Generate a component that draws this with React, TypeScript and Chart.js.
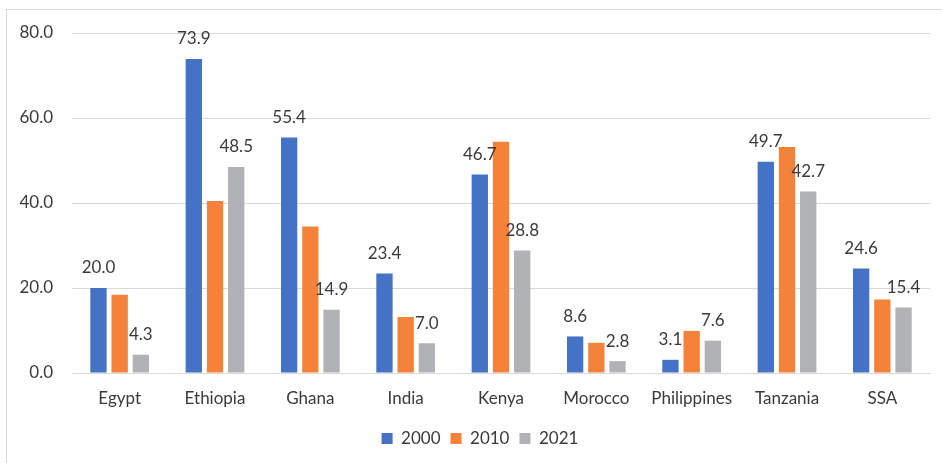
import React, { useEffect, useRef } from "react";
import { Chart, registerables } from "chart.js";

Chart.register(...registerables);

const categories = ["Egypt", "Ethiopia", "Ghana", "India", "Kenya", "Morocco", "Philippines", "Tanzania", "SSA"];
const series2000 = [20.0, 73.9, 55.4, 23.4, 46.7, 8.6, 3.1, 49.7, 24.6];
const series2010 = [18.4, 40.5, 34.5, 13.2, 54.4, 7.1, 9.9, 53.2, 17.3];
const series2021 = [4.3, 48.5, 14.9, 7.0, 28.8, 2.8, 7.6, 42.7, 15.4];
const yTicks = [0, 20, 40, 60, 80];

const FONT = "Lato";
const FS = 17;
const TEXT = "#3a3a3a";

const borderPlugin = {
  id: "outerBorder",
  beforeDraw(chart: any) {
    const ctx = chart.ctx;
    ctx.save();
    ctx.fillStyle = "#ffffff";
    ctx.fillRect(0, 0, chart.width, chart.height);
    ctx.strokeStyle = "#d9d9d9";
    ctx.lineWidth = 1;
    ctx.strokeRect(6.5, 9.5, 1200, 1200);
    ctx.restore();
  },
};

const legendShiftPlugin = {
  id: "legendShift",
  afterLayout(chart: any) {
    if (chart.legend) {
      chart.legend.left += 15;
      chart.legend.right += 15;
    }
  },
};

const labelPlugin = {
  id: "valueLabels",
  afterDatasetsDraw(chart: any) {
    const ctx = chart.ctx;
    ctx.save();
    ctx.font = `${FS}px ${FONT}`;
    ctx.fillStyle = TEXT;
    ctx.textAlign = "center";
    ctx.textBaseline = "middle";
    chart.data.datasets.forEach((ds: any, di: number) => {
      if (!ds.showLabels) return;
      const meta = chart.getDatasetMeta(di);
      meta.data.forEach((bar: any, i: number) => {
        ctx.fillText(Number(ds.data[i]).toFixed(1), bar.x, bar.y - 20);
      });
    });
    ctx.restore();
  },
};

export default function App() {
  const ref = useRef<HTMLCanvasElement>(null);
  useEffect(() => {
    const canvas = ref.current!;
    const chart = new Chart(canvas, {
      type: "bar",
      data: {
        labels: categories,
        datasets: [
          { label: "2000", data: series2000, backgroundColor: "#4472C4", showLabels: true } as any,
          { label: "2010", data: series2010, backgroundColor: "#F5823A", showLabels: false } as any,
          { label: "2021", data: series2021, backgroundColor: "#B1B2B5", showLabels: true } as any,
        ],
      },
      options: {
        responsive: false,
        animation: false,
        devicePixelRatio: 1,
        layout: { padding: { top: 33, right: 12, left: 0, bottom: 6 } },
        datasets: { bar: { categoryPercentage: 0.667, barPercentage: 0.77 } },
        scales: {
          x: {
            grid: { display: false },
            border: { display: true, color: "#d9d9d9", width: 1 },
            ticks: { color: TEXT, font: { family: FONT, size: FS }, padding: 7, maxRotation: 0 },
            afterFit(scale: any) { scale.height = 47; },
          },
          y: {
            min: 0,
            max: 80,
            afterBuildTicks(scale: any) { scale.ticks = yTicks.map((v) => ({ value: v })); },
            grid: { color: "#d9d9d9", drawTicks: false, lineWidth: 1 },
            border: { display: false },
            ticks: {
              color: TEXT,
              font: { family: FONT, size: FS },
              padding: 19,
              callback: (v: any) => Number(v).toFixed(1),
            },
            afterFit(scale: any) { scale.width = 72; },
          },
        },
        plugins: {
          legend: {
            position: "bottom",
            labels: { color: TEXT, font: { family: FONT, size: FS }, boxWidth: 11, boxHeight: 11, padding: 10 },
          },
          tooltip: { enabled: false },
        },
      },
      plugins: [borderPlugin, legendShiftPlugin, labelPlugin],
    });
    return () => chart.destroy();
  }, []);
  return (
    <div style={{ position: "fixed", left: 0, top: 0, width: 942, height: 463 }}>
      <canvas ref={ref} width={942} height={463} style={{ display: "block" }} />
    </div>
  );
}
